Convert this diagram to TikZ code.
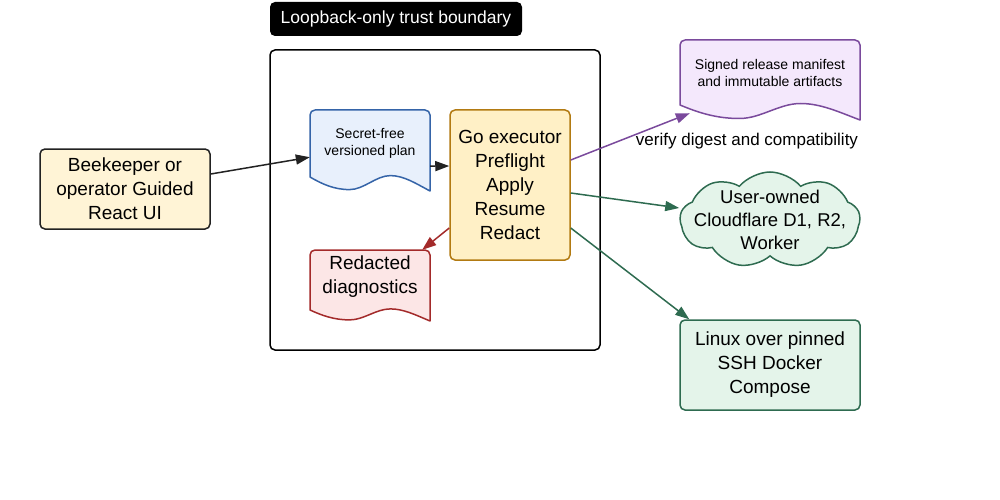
\documentclass[tikz,border=0pt]{standalone}
\usepackage{fontspec}
\setmainfont{Liberation Sans}
\usetikzlibrary{arrows.meta,shapes.symbols}

\definecolor{ink}{HTML}{222222}
\definecolor{beefill}{HTML}{FFF4D6}
\definecolor{execfill}{HTML}{FFF0C6}
\definecolor{execline}{HTML}{B27A12}
\definecolor{planfill}{HTML}{E8F0FC}
\definecolor{planline}{HTML}{3564A8}
\definecolor{diagfill}{HTML}{FCE6E6}
\definecolor{diagline}{HTML}{A32A2A}
\definecolor{signfill}{HTML}{F4E8FC}
\definecolor{signline}{HTML}{7A4A9C}
\definecolor{hostfill}{HTML}{E4F4EA}
\definecolor{hostline}{HTML}{2E6B50}

\begin{document}
\begin{tikzpicture}[x=1pt,y=-1pt,
  big/.style={font=\fontsize{19pt}{24pt}\selectfont},
  small/.style={font=\fontsize{14pt}{17pt}\selectfont},
  box/.style={draw, rounded corners=5pt, line width=1.5pt, align=center, big},
  doctext/.style={align=center, inner sep=0pt},
  link/.style={line width=1.5pt, -{Triangle[length=14pt,width=10pt]}}]

\useasboundingbox (0,0) rectangle (1000,500);

% --- Document outline: x, y, width, straight height, wave, style ---
\def\docshape#1#2#3#4#5#6{%
  \filldraw[#6, line width=1.5pt, line join=round]
    (#1,{#2+#4}) [rounded corners=5pt] -- (#1,#2) -- ({#1+#3},#2)
    [sharp corners] -- ({#1+#3},{#2+#4+#5})
    .. controls ({#1+0.88*#3},{#2+#4+0.45*#5}) and ({#1+0.78*#3},{#2+#4-0.1*#5}) .. ({#1+0.67*#3},{#2+#4-0.1*#5})
    .. controls ({#1+0.55*#3},{#2+#4-0.1*#5}) and ({#1+0.45*#3},{#2+#4+0.9*#5}) .. ({#1+0.33*#3},{#2+#4+0.9*#5})
    .. controls ({#1+0.2*#3},{#2+#4+0.9*#5}) and ({#1+0.1*#3},{#2+#4+0.5*#5}) .. (#1,{#2+#4}) -- cycle;}

% --- Trust boundary ---
\node[draw, line width=1.5pt, rounded corners=5pt, minimum width=330pt, minimum height=300pt] (boundary) at (435,200) {};
\node[fill=black, text=white, rounded corners=5pt, minimum width=252pt, minimum height=34pt,
      font=\fontsize{17.5pt}{21pt}\selectfont] (zone) at (396,19) {Loopback-only trust boundary};

% --- Operator side ---
\node[box, draw=ink, fill=beefill, minimum width=170pt, minimum height=80pt] (bee) at (125,189)
      {Beekeeper or\\operator Guided\\React UI};

% --- Inside the boundary ---
\docshape{310}{110}{120}{67}{14}{draw=planline, fill=planfill}
\node[doctext, small, minimum width=120pt, minimum height=67pt] (plan) at (370,143.5)
      {Secret-free\\versioned plan};

\node[box, draw=execline, fill=execfill, minimum width=120pt, minimum height=150pt] (exec) at (510,185)
      {Go executor\\Preflight\\Apply\\Resume\\Redact};

\docshape{310}{250}{120}{60}{11}{draw=diagline, fill=diagfill}
\node[doctext, big, minimum width=120pt, minimum height=54pt] (diag) at (370,277)
      {Redacted\\diagnostics};

% --- Targets ---
\docshape{680}{40}{180}{65}{15}{draw=signline, fill=signfill}
\node[doctext, small, minimum width=180pt, minimum height=65pt] (manifest) at (770,72.5)
      {Signed release manifest\\and immutable artifacts};

\node[cloud, cloud puffs=9, cloud puff arc=100, cloud ignores aspect, draw=hostline, fill=hostfill, line width=1.5pt,
      minimum width=180pt, minimum height=96pt, inner sep=0pt,
      label={[font=\fontsize{18.5pt}{23pt}\selectfont, align=center]center:{User-owned\\Cloudflare D1, R2,\\Worker}}]
      (cloud) at (770,220) {};

\node[box, draw=hostline, fill=hostfill, minimum width=180pt, minimum height=90pt] (linux) at (770,365)
      {Linux over pinned\\SSH Docker\\Compose};

\node[font=\fontsize{17pt}{20pt}\selectfont] (verify) at (747,141) {verify digest and compatibility};

% --- Connectors ---
\draw[link, color=ink] ([yshift=15pt]bee.east) -- ([yshift=20pt]plan.south west);
\draw[link, color=ink] ([yshift=11pt]plan.south east) -- ([yshift=19pt]exec.west);
\draw[link, color=signline] ([yshift=25pt]exec.east) -- ([xshift=10pt,yshift=-8pt]manifest.south west);
\draw[link, color=hostline] ([yshift=-8pt]exec.east) -- ([yshift=12pt]cloud.west);
\draw[link, color=hostline] ([yshift=-43pt]exec.east) -- ([xshift=10pt]linux.north west);
\draw[link, color=diagline] ([yshift=-43pt]exec.west) -- ([xshift=-8pt]diag.north east);

\end{tikzpicture}
\end{document}
